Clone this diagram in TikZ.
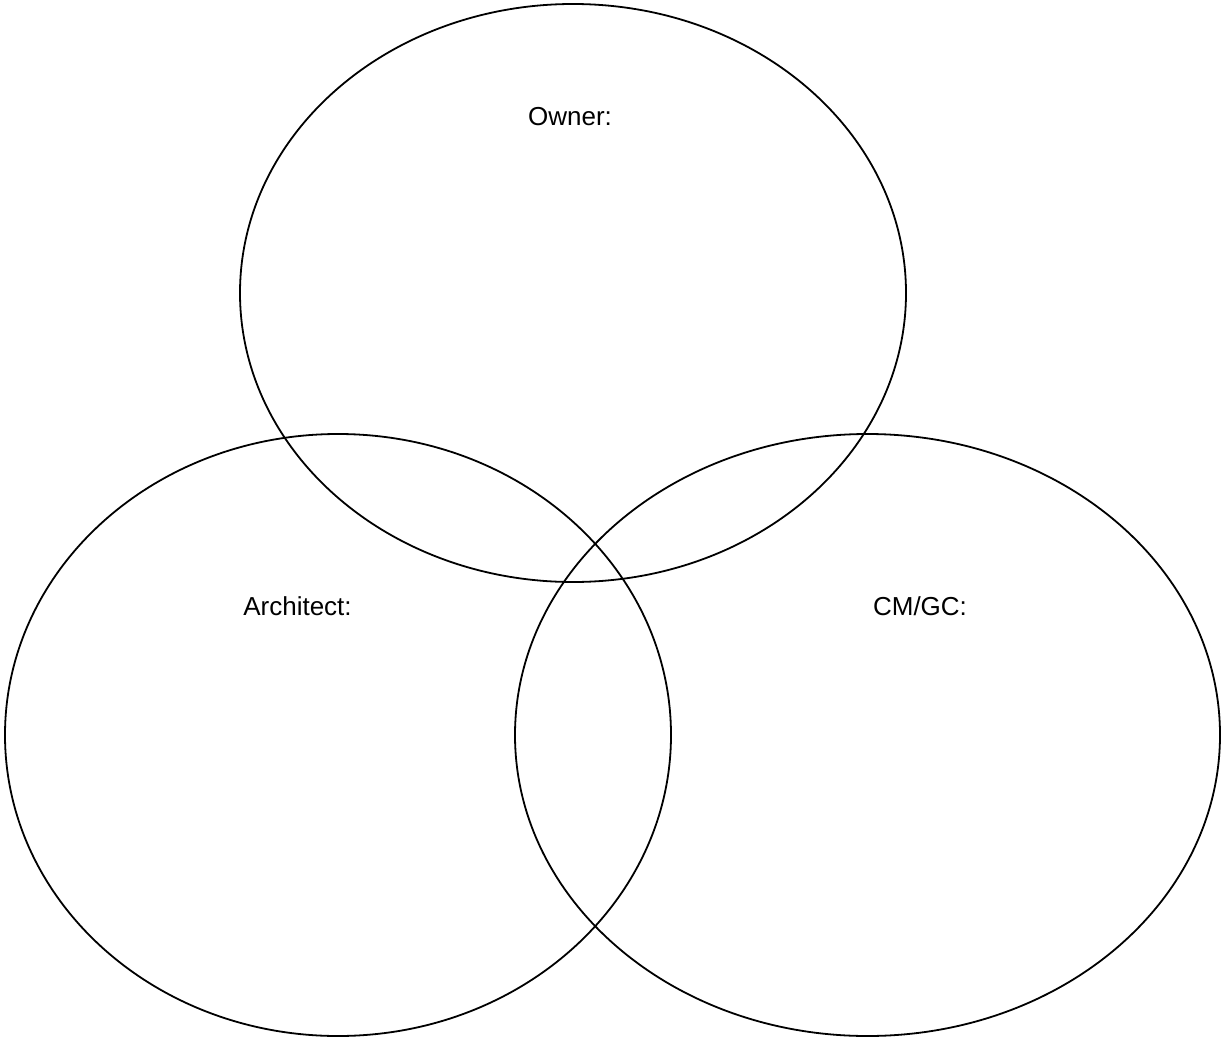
\documentclass[tikz,border=0pt]{standalone}
\usepackage{fontspec}
\setmainfont{Liberation Sans}
\usetikzlibrary{positioning}
\begin{document}
\begin{tikzpicture}[x=1pt,y=-1pt,line width=1.8pt,
    party/.style={font=\fontsize{26}{30}\selectfont,inner sep=0pt}]
  \useasboundingbox (0,0) rectangle (1223,1038);
  % the three parties
  \draw (573,293) ellipse [x radius=333,y radius=289];
  \draw (338,735) ellipse [x radius=333,y radius=301];
  \draw (867.5,735) ellipse [x radius=352.5,y radius=301];
  \node[party] (owner) at (570,117) {Owner:};
  \node[party] (arch) at (297.5,606) {Architect:};
  \node[party] (cmgc) at (920,606) {CM/GC:};
\end{tikzpicture}
\end{document}
